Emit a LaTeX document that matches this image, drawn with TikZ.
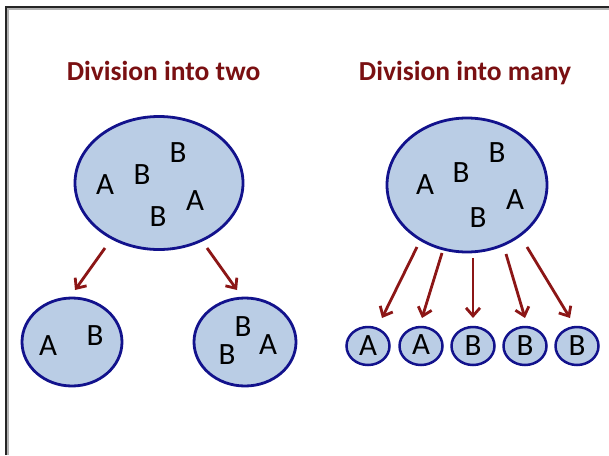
\documentclass[tikz,border=0pt]{standalone}
\usepackage{fontspec}
\setmainfont{Carlito}
\usetikzlibrary{shapes.geometric,arrows.meta}
\definecolor{titlered}{RGB}{122,16,18}
\definecolor{arrred}{RGB}{140,22,22}
\definecolor{cellfill}{RGB}{186,205,229}
\definecolor{celledge}{RGB}{18,18,140}
\tikzset{
  cell/.style={ellipse, draw=celledge, fill=cellfill, line width=2.8pt, inner sep=0pt},
  letter/.style={inner sep=0pt, font=\fontsize{31}{33}\selectfont},
  ttl/.style={inner sep=0pt, anchor=base, text=titlered, font=\fontsize{27.5}{30}\selectfont\bfseries},
  arr/.style={draw=arrred, line width=2.8pt, -{Straight Barb[length=8pt,width=14pt,line width=2.8pt]}},
}
\begin{document}
\begin{tikzpicture}[x=1pt,y=-1pt]
\useasboundingbox (0,0) rectangle (609,455);
\fill[white] (0,0) rectangle (609,455);
% frame
\draw[gray!60, line width=1.5pt] (8,455) -- (8,9) -- (609,9);
\draw[black!85, line width=1.4pt] (6,455) -- (6,7) -- (609,7);
% titles
\node[ttl] (t1) at (163.5,80) {Division into two};
\node[ttl] (t2) at (465,80) {Division into many};
% left big cell
\node[cell, minimum width=168pt, minimum height=133pt] (L) at (159,183) {};
\node[letter] (la1) at (105,185) {A};
\node[letter] (lb1) at (142,175) {B};
\node[letter] (lb2) at (178,153) {B};
\node[letter] (la2) at (195,201) {A};
\node[letter] (lb3) at (158,217) {B};
% left daughters
\node[cell, minimum width=100pt, minimum height=88pt] (l1) at (72,342) {};
\node[letter] (l1a) at (48,346) {A};
\node[letter] (l1b) at (95,336) {B};
\node[cell, minimum width=102pt, minimum height=88pt] (l2) at (245,342) {};
\node[letter] (l2b1) at (243,327) {B};
\node[letter] (l2b2) at (227,355) {B};
\node[letter] (l2a) at (268,345) {A};
% right big cell
\node[cell, minimum width=160pt, minimum height=134pt] (R) at (467,185) {};
\node[letter] (ra1) at (425,185) {A};
\node[letter] (rb1) at (461,173) {B};
\node[letter] (rb2) at (497,153) {B};
\node[letter] (ra2) at (515,200) {A};
\node[letter] (rb3) at (478,218) {B};
% right small cells
\node[cell, minimum width=43pt, minimum height=38pt, line width=2.5pt] (c1) at (368,346) {};
\node[cell, minimum width=43pt, minimum height=38pt, line width=2.5pt] (c2) at (421,346) {};
\node[cell, minimum width=43pt, minimum height=38pt, line width=2.5pt] (c3) at (473,346) {};
\node[cell, minimum width=43pt, minimum height=38pt, line width=2.5pt] (c4) at (525,346) {};
\node[cell, minimum width=43pt, minimum height=38pt, line width=2.5pt] (c5) at (577,346) {};
\node[letter] (c1t) at (368,346) {A};
\node[letter] (c2t) at (421,345) {A};
\node[letter] (c3t) at (473,346) {B};
\node[letter] (c4t) at (525,346) {B};
\node[letter] (c5t) at (577,346) {B};
% arrow ends
\coordinate (s1) at (105,248);
\coordinate (s2) at (207,248);
\coordinate (r1) at (417,247);
\coordinate (r2) at (442,253);
\coordinate (r3) at (473,258);
\coordinate (r4) at (506,254);
\coordinate (r5) at (527,247);
\coordinate (e1) at (75,290);
\coordinate (e2) at (237,290);
\coordinate (f1) at (382,318);
\coordinate (f2) at (422,318);
\coordinate (f3) at (473,318);
\coordinate (f4) at (525,318);
\coordinate (f5) at (570,318);
\draw[arr] (s1) -- (e1);
\draw[arr] (s2) -- (e2);
\draw[arr] (r1) -- (f1);
\draw[arr] (r2) -- (f2);
\draw[arr] (r3) -- (f3);
\draw[arr] (r4) -- (f4);
\draw[arr] (r5) -- (f5);
\end{tikzpicture}
\end{document}
